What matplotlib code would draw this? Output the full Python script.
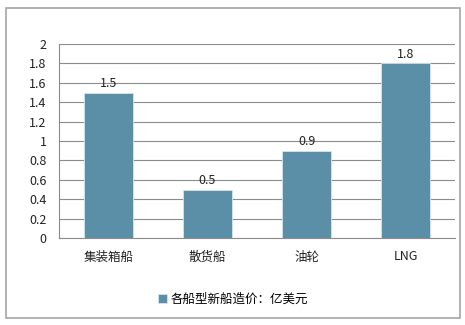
import matplotlib.pyplot as plt
from matplotlib.patches import Rectangle

plt.rcParams['font.family'] = ['Noto Sans CJK SC', 'DejaVu Sans']

categories = ['集装箱船', '散货船', '油轮', 'LNG']
values = [1.5, 0.5, 0.9, 1.8]
series_name = '各船型新船造价：亿美元'
yticks = [0, 0.2, 0.4, 0.6, 0.8, 1, 1.2, 1.4, 1.6, 1.8, 2]
ytick_labels = ['0', '0.2', '0.4', '0.6', '0.8', '1', '1.2', '1.4', '1.6', '1.8', '2']

W, H = 465, 325
fig = plt.figure(figsize=(W / 100, H / 100), dpi=100)

# outer chart border
fig.patches.append(Rectangle((6 / W, 1 - 318 / H), 454 / W, 310 / H,
                             transform=fig.transFigure, fill=False,
                             edgecolor='#a6a6a6', linewidth=1.2))

ax = fig.add_axes([59 / W, 1 - 238 / H, 396 / W, 194 / H])
bar_color = '#5b8fa8'
x = range(len(categories))
bars = ax.bar(x, values, width=0.5, color=bar_color, edgecolor='#d6e4ec',
              linewidth=0.6, zorder=3, label=series_name)

for xi, v in zip(x, values):
    ax.text(xi, v + 0.025, f'{v:g}', ha='center', va='bottom', fontsize=9, color='#222222')

ax.set_xlim(-0.5, len(categories) - 0.5)
ax.set_ylim(0, 2)
ax.set_yticks(yticks)
ax.set_yticklabels(ytick_labels, fontsize=9, color='#222222')
ax.set_xticks(list(x))
ax.set_xticklabels(categories, fontsize=9, color='#222222')
ax.tick_params(axis='y', length=0, pad=9)
ax.tick_params(axis='x', length=0, pad=9)

ax.grid(axis='y', color='#8c8c8c', linewidth=0.8, zorder=0)
for s in ['top', 'right']:
    ax.spines[s].set_visible(False)
for s in ['left', 'bottom']:
    ax.spines[s].set_color('#8c8c8c')
    ax.spines[s].set_linewidth(0.8)

fig.legend(handles=[bars], labels=[series_name], loc='center',
           bbox_to_anchor=(233 / W, 1 - 299 / H), frameon=False, fontsize=9,
           handlelength=0.7, handleheight=0.7, handletextpad=0.3)

fig.savefig('out.png', dpi=100)
